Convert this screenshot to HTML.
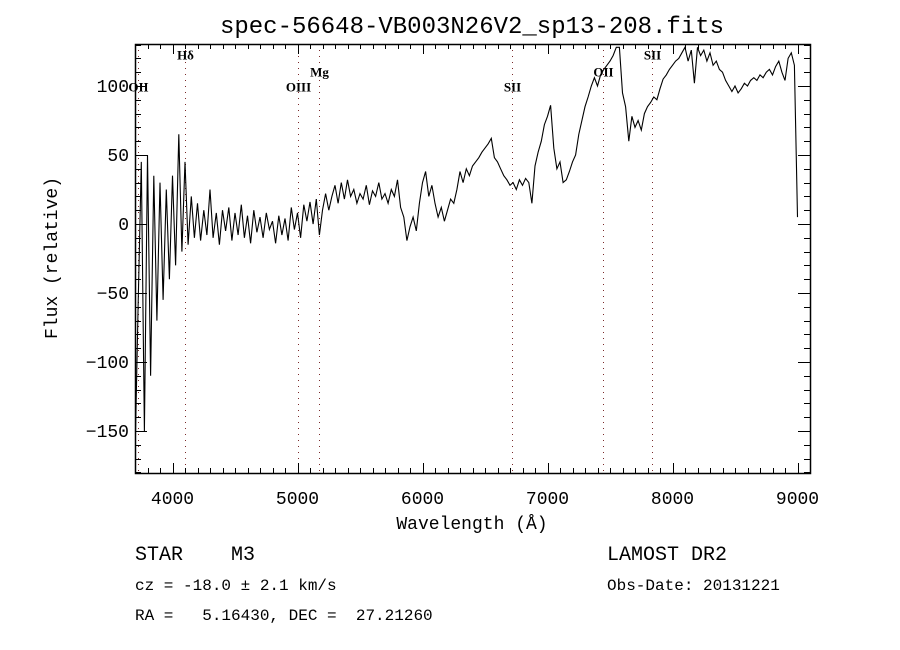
<!DOCTYPE html>
<html><head><meta charset="utf-8"><style>
body{margin:0;background:#fff;width:900px;height:650px;overflow:hidden}
svg{display:block}
text{font-family:"Liberation Mono",monospace;fill:#000}
</style></head><body>
<svg id="chart" width="900" height="650" viewBox="0 0 900 650" xmlns="http://www.w3.org/2000/svg">
<rect x="0" y="0" width="900" height="650" fill="#fff"/>
<text x="472" y="33" font-size="24" text-anchor="middle">spec-56648-VB003N26V2_sp13-208.fits</text>
<text x="472" y="529" font-size="18" text-anchor="middle">Wavelength (Å)</text>
<text x="57" y="258" font-size="18" text-anchor="middle" transform="rotate(-90 57 258)">Flux (relative)</text>
<text x="135" y="560" font-size="20" xml:space="preserve">STAR    M3</text>
<text x="135" y="590" font-size="16">cz = -18.0 ± 2.1 km/s</text>
<text x="135" y="620" font-size="16" xml:space="preserve">RA =   5.16430, DEC =  27.21260</text>
<text x="607" y="560" font-size="20">LAMOST DR2</text>
<text x="607" y="590" font-size="16">Obs-Date: 20131221</text>
<g id="plot"></g>
</svg>
<script>
const fluxValues = [-170,-60,45,-150,50,-110,35,-70,30,-55,25,-40,35,-30,65,-20,45,
-15,20,-10,15,-12,10,-8,25,-10,8,-15,10,-5,12,-12,8,-8,14,-10,6,-14,10,-6,5,-10,8,-4,2,-14,6,-8,4,-12,12,-4,
8,-10,14,2,16,0,18,-8,10,22,10,20,28,15,30,18,32,20,25,15,22,18,28,14,24,20,30,18,22,15,25,20,32,12,5,-12,-2,5,-5,15,
30,38,20,28,15,5,12,2,10,18,15,25,38,30,40,35,42,45,48,52,55,58,62,48,45,40,35,32,28,30,25,32,28,33,30,15,42,52,60,72,
78,86,55,40,45,30,32,38,45,50,65,75,85,92,100,106,100,108,112,115,118,122,128,128,95,85,60,78,70,75,68,80,85,88,92,90,98,105,108,112,
115,118,120,124,128,118,126,102,128,122,126,118,124,115,118,112,110,104,100,96,100,95,98,102,100,104,106,104,108,106,110,112,108,114,118,110,104,120,124,115,5];
const waveStart = 3700, waveStep = 25;
const lineNames = ["OII","Hδ","OIII","Mg","SII","OII","SII"];
const lineWaves = [3727,4102,5007,5175,6717,7440,7832];
const lineLabelFlux = [96,119,96,107,96,107,119];
const xTicks = [4000,5000,6000,7000,8000,9000];
const yTicks = [-150,-100,-50,0,50,100];

const L=135,R=810,T=44,B=473, X0=3700,X1=9100,Y0=-180.4,Y1=130.4;
const xs=w=>L+(w-X0)/(X1-X0)*(R-L);
const ys=f=>B-(f-Y0)/(Y1-Y0)*(B-T);
const NS="http://www.w3.org/2000/svg";
const g=document.getElementById('plot');
function mk(t,a){const e=document.createElementNS(NS,t);for(const k in a)e.setAttribute(k,a[k]);g.appendChild(e);return e;}

const defs=mk('clipPath',{id:'clip'});
const cr=document.createElementNS(NS,'rect');cr.setAttribute('x',L);cr.setAttribute('y',T);cr.setAttribute('width',R-L);cr.setAttribute('height',B-T);defs.appendChild(cr);

// emission line markers
lineWaves.forEach((w,i)=>{
  const x=Math.round(xs(w))+0.5;
  const ln=mk('line',{x1:x,x2:x,y1:T,y2:B,stroke:'#7a2a2a','stroke-width':1,'stroke-dasharray':'1 5'});
  
  
  const tx=mk('text',{x:x,y:ys(lineLabelFlux[i]),'text-anchor':'middle',style:'font-family:"Liberation Serif",serif;font-size:13px;font-weight:bold'});
  tx.textContent=lineNames[i];
  
  
});

// spectrum
let d='';
fluxValues.forEach((f,i)=>{const w=waveStart+i*waveStep;d+=(i?'L':'M')+xs(w).toFixed(1)+' '+ys(f).toFixed(1);});
const p=mk('path',{d:d,fill:'none',stroke:'#000','stroke-width':1.1,'clip-path':'url(#clip)'});



// frame
const fr=mk('rect',{x:L+0.5,y:T+0.5,width:R-L,height:B-T,fill:'none',stroke:'#000','stroke-width':1.5});



// x ticks
for(let w=3700;w<=9100;w+=100){
  const maj=w%1000===0, len=maj?10:5, x=Math.round(xs(w))+0.5;
  mk('line',{x1:x,x2:x,y1:B,y2:B-len,stroke:'#000'});
  mk('line',{x1:x,x2:x,y1:T,y2:T+len,stroke:'#000'});
}
xTicks.forEach(v=>{
  const t=mk('text',{x:xs(v),y:B+31,'font-size':18,'text-anchor':'middle'});
  t.textContent=v;
  
  
});
// y ticks
for(let v=-180;v<=130;v+=10){
  const maj=v%50===0,len=maj?12:6,y=Math.round(ys(v))+0.5;
  mk('line',{x1:L,x2:L+len,y1:y,y2:y,stroke:'#000'});
  mk('line',{x1:R,x2:R-len,y1:y,y2:y,stroke:'#000'});
}
yTicks.forEach(v=>{
  const t=mk('text',{x:L-6,y:ys(v)+6,'font-size':18,'text-anchor':'end'});
  t.textContent=v<0?'−'+Math.abs(v):v;
  
  
});
</script>
</body></html>
